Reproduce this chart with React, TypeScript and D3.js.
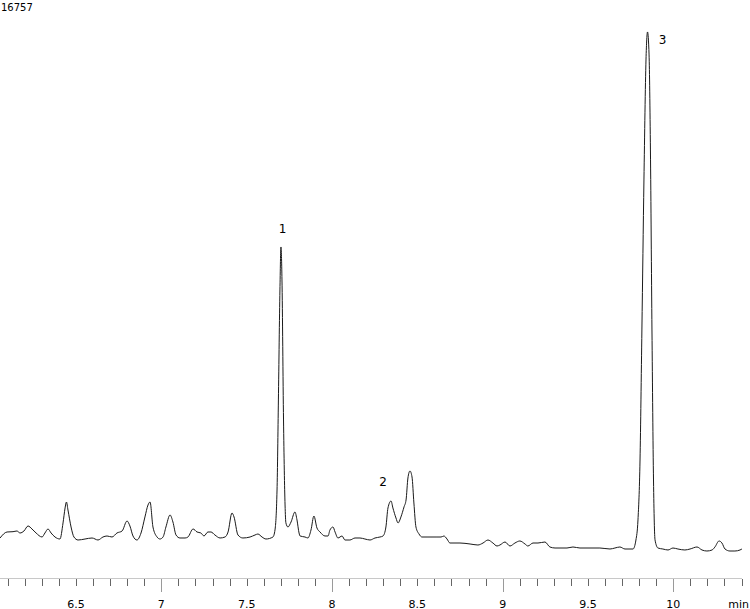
import React from 'react';
import * as d3 from 'd3';

// retention time (min) and detector response
const times = [
  6.055, 6.096, 6.131, 6.154, 6.172, 6.195, 6.219, 6.242, 6.266, 6.301,
  6.318, 6.336, 6.354, 6.377, 6.406, 6.424, 6.436, 6.444, 6.453, 6.471,
  6.488, 6.512, 6.553, 6.594, 6.629, 6.658, 6.682, 6.711, 6.74, 6.77,
  6.799, 6.816, 6.834, 6.857, 6.881, 6.904, 6.922, 6.934, 6.951, 6.975,
  6.992, 7.01, 7.027, 7.051, 7.068, 7.086, 7.109, 7.139, 7.156, 7.186,
  7.209, 7.232, 7.25, 7.273, 7.291, 7.314, 7.344, 7.373, 7.391, 7.414,
  7.426, 7.449, 7.478, 7.52, 7.549, 7.566, 7.59, 7.613, 7.654, 7.666,
  7.678, 7.686, 7.695, 7.701, 7.707, 7.716, 7.725, 7.73, 7.742, 7.76,
  7.783, 7.795, 7.807, 7.813, 7.842, 7.859, 7.877, 7.894, 7.912, 7.93,
  7.959, 7.977, 7.988, 8.006, 8.018, 8.035, 8.059, 8.076, 8.105, 8.135,
  8.164, 8.193, 8.223, 8.252, 8.281, 8.299, 8.316, 8.328, 8.346, 8.357,
  8.375, 8.387, 8.404, 8.422, 8.434, 8.445, 8.457, 8.469, 8.48, 8.492,
  8.51, 8.527, 8.557, 8.586, 8.615, 8.639, 8.656, 8.674, 8.691, 8.75,
  8.809, 8.855, 8.885, 8.914, 8.943, 8.967, 8.984, 9.014, 9.043, 9.072,
  9.101, 9.131, 9.148, 9.178, 9.207, 9.248, 9.277, 9.307, 9.336, 9.377,
  9.412, 9.453, 9.512, 9.57, 9.629, 9.658, 9.687, 9.717, 9.764, 9.781,
  9.793, 9.805, 9.816, 9.828, 9.84, 9.849, 9.858, 9.866, 9.875, 9.884,
  9.893, 9.91, 9.939, 9.969, 9.998, 10.027, 10.068, 10.098, 10.139, 10.168,
  10.197, 10.227, 10.244, 10.268, 10.285, 10.303, 10.332, 10.361, 10.391, 10.402,
];

const signal = [
  1246, 1424, 1433, 1453, 1394, 1453, 1602, 1513, 1394, 1275,
  1394, 1513, 1394, 1275, 1216, 1691, 2136, 2313, 2076, 1572,
  1275, 1186, 1216, 1246, 1186, 1275, 1305, 1275, 1394, 1453,
  1750, 1602, 1305, 1186, 1394, 1869, 2225, 2313, 1572, 1275,
  1216, 1275, 1572, 1928, 1720, 1335, 1246, 1246, 1275, 1513,
  1424, 1394, 1305, 1424, 1424, 1335, 1246, 1275, 1424, 1987,
  1869, 1335, 1246, 1275, 1335, 1364, 1275, 1216, 1275, 1483,
  2669, 5339, 8601, 9877, 8898, 4746, 2225, 1691, 1572, 1720,
  2017, 1780, 1394, 1305, 1275, 1246, 1483, 1898, 1542, 1424,
  1305, 1305, 1483, 1572, 1424, 1246, 1305, 1186, 1186, 1246,
  1246, 1216, 1186, 1246, 1275, 1305, 1572, 2136, 2343, 2136,
  1839, 1691, 1869, 2165, 2373, 3025, 3233, 3055, 2284, 1572,
  1364, 1275, 1275, 1275, 1275, 1275, 1305, 1216, 1097, 1097,
  1068, 1038, 1097, 1186, 1097, 1008, 1038, 1127, 1008, 1097,
  1157, 1068, 1008, 1097, 1097, 1127, 979, 949, 949, 949,
  979, 949, 949, 949, 919, 949, 979, 919, 919, 1186,
  1780, 3559, 7415, 11864, 15423, 16254, 15572, 12754, 7415, 2966,
  1186, 949, 919, 890, 949, 919, 890, 919, 979, 890,
  860, 890, 979, 1157, 1097, 919, 860, 860, 890, 919,
];

const fullScale = '16757';
const majorTicks = [6.5, 7, 7.5, 8, 8.5, 9, 9.5, 10];
const majorTickLabels = ['6.5', '7', '7.5', '8', '8.5', '9', '9.5', '10'];
const unitLabel = 'min';

const peakNames = ['1', '2', '3'];
const peakTimes = [7.701, 8.346, 9.849];
const peakHeights = [9877, 2343, 16254];

const W = 750;
const H = 609;

const App: React.FC = () => {
  const x = d3.scaleLinear().domain([6.5, 10]).range([76, 673.3]);
  const y = d3.scaleLinear().domain([0, 16757]).range([580, 15]);

  const points: [number, number][] = times.map((t, i) => [t, signal[i]]);
  const line = d3
    .line<[number, number]>()
    .x((d) => x(d[0]))
    .y((d) => y(d[1]))
    .curve(d3.curveMonotoneX);

  const axisY = 578.5;
  const domainStart = 6.055;
  const domainEnd = 10.402;
  const minorTicks = d3.range(61, 105).map((d) => d / 10);
  const isInteger = (v: number) => Math.abs(v - Math.round(v)) < 1e-6;

  // label offsets relative to each peak apex
  const labelOffset = [
    { dx: 1.5, dy: -14, anchor: 'middle' },
    { dx: -8, dy: -15, anchor: 'middle' },
    { dx: 15, dy: 12, anchor: 'middle' },
  ];

  const font = '"DejaVu Sans", Verdana, sans-serif';

  return (
    <svg
      width={W}
      height={H}
      style={{ position: 'absolute', left: 0, top: 0, background: '#fff', display: 'block' }}
    >
      <text x={1} y={10.5} fontFamily={font} fontSize={10} fill="#000">
        {fullScale}
      </text>

      {/* axis */}
      <g shapeRendering="crispEdges">
        <line x1={x(domainStart)} x2={x(domainEnd)} y1={axisY} y2={axisY} stroke="#c8c8c8" />
        {minorTicks.map((t) => (
          <line
            key={t}
            x1={Math.round(x(t)) + 0.5}
            x2={Math.round(x(t)) + 0.5}
            y1={axisY}
            y2={isInteger(t) ? 592 : 585.5}
            stroke={isInteger(t) ? '#9a9a9a' : '#666'}
          />
        ))}
      </g>
      {majorTicks.map((t, i) => (
        <text
          key={t}
          x={x(t)}
          y={607.5}
          textAnchor="middle"
          fontFamily={font}
          fontSize={11}
          fill="#000"
        >
          {majorTickLabels[i]}
        </text>
      ))}
      <text x={749} y={607.5} textAnchor="end" fontFamily={font} fontSize={11} fill="#000">
        {unitLabel}
      </text>

      {/* trace */}
      <path d={line(points) ?? ''} fill="none" stroke="#1a1a1a" strokeWidth={1} />

      {peakNames.map((name, i) => (
        <text
          key={name}
          x={x(peakTimes[i]) + labelOffset[i].dx}
          y={y(peakHeights[i]) + labelOffset[i].dy}
          textAnchor={labelOffset[i].anchor as any}
          fontFamily={font}
          fontSize={12}
          fill="#000"
        >
          {name}
        </text>
      ))}
    </svg>
  );
};

export default App;
